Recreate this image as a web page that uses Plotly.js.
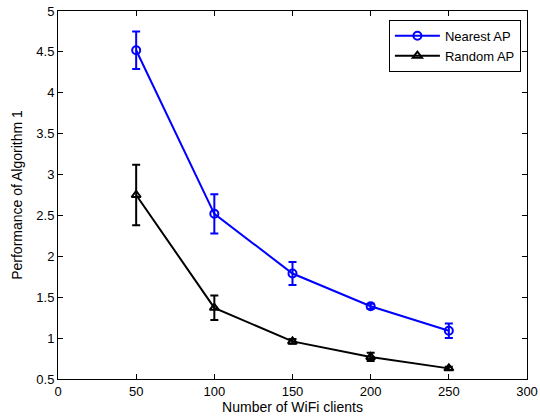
<!DOCTYPE html>
<html>
<head>
<script src="https://cdn.plot.ly/plotly-3.0.1.min.js"></script>
<style>html,body{margin:0;padding:0;background:#fff;}#chart{width:540px;height:419px;}</style>
</head>
<body>
<div id="chart"></div>
<script>
const clients = [50, 100, 150, 200, 250];
const nearestAP = [4.52, 2.52, 1.79, 1.39, 1.09];
const nearestErr = [0.23, 0.24, 0.14, 0.03, 0.09];
const randomAP = [2.75, 1.37, 0.96, 0.77, 0.63];
const randomErr = [0.37, 0.15, 0.03, 0.05, 0.02];
const xTicks = [0, 50, 100, 150, 200, 250, 300];
const yTicks = [0.5, 1, 1.5, 2, 2.5, 3, 3.5, 4, 4.5, 5];

const fam = 'Liberation Sans, Arial, sans-serif';
const tickFont = {family: fam, size: 13, color: '#000'};
const titleFont = {family: fam, size: 14, color: '#000'};
const legendFont = {family: fam, size: 13, color: '#000'};

const traces = [
  {
    x: clients, y: nearestAP, name: 'Nearest AP', type: 'scatter', mode: 'lines+markers',
    line: {color: '#0000ff', width: 2},
    marker: {symbol: 'circle-open', size: 8, color: '#0000ff', line: {width: 2, color: '#0000ff'}},
    error_y: {type: 'data', array: nearestErr, visible: true, color: '#0000ff', thickness: 2, width: 4}
  },
  {
    x: clients, y: randomAP, name: 'Random AP', type: 'scatter', mode: 'lines+markers',
    line: {color: '#000000', width: 2},
    marker: {symbol: 'triangle-up-open', size: 8, color: '#000000', line: {width: 2, color: '#000000'}},
    error_y: {type: 'data', array: randomErr, visible: true, color: '#000000', thickness: 2, width: 4}
  }
];

const axisCommon = {
  showline: true, linecolor: '#000', linewidth: 1, mirror: 'ticks',
  ticks: 'inside', ticklen: 5, tickcolor: '#000', tickwidth: 1,
  showgrid: false, zeroline: false, tickfont: tickFont
};

const layout = {
  width: 540, height: 419,
  margin: {l: 58, r: 13, t: 11, b: 40},
  paper_bgcolor: '#fff', plot_bgcolor: '#fff',
  font: tickFont,
  showlegend: true,
  legend: {
    x: 0.987, y: 0.976, xanchor: 'right', yanchor: 'top',
    bgcolor: '#fff', bordercolor: '#000', borderwidth: 1,
    font: legendFont, tracegroupgap: 0, itemwidth: 45
  },
  xaxis: Object.assign({}, axisCommon, {
    range: [0, 300], tickvals: xTicks, ticktext: xTicks.map(String),
    title: {text: 'Number of WiFi clients', font: titleFont, standoff: 2}
  }),
  yaxis: Object.assign({}, axisCommon, {
    range: [0.5, 5], tickvals: yTicks, ticktext: yTicks.map(String),
    title: {text: 'Performance of Algorithm 1', font: titleFont, standoff: 10}
  })
};

Plotly.newPlot('chart', traces, layout, {displayModeBar: false, staticPlot: true});
</script>
</body>
</html>
